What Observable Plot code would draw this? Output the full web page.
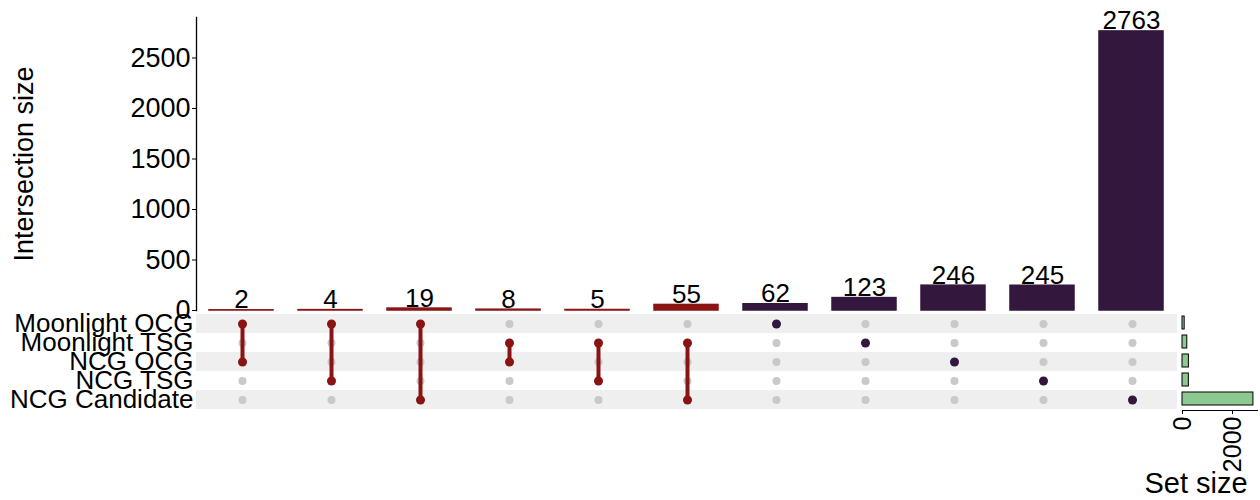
<!DOCTYPE html>
<html>
<head>
<meta charset="utf-8">
<script src="https://cdn.jsdelivr.net/npm/d3@7"></script>
<script src="https://cdn.jsdelivr.net/npm/@observablehq/plot@0.6"></script>
<style>
  html, body { margin: 0; padding: 0; background: #fff; }
  #chart { position: relative; width: 1260px; height: 500px; }
  #chart svg { position: absolute; left: 0; top: 0; }
</style>
</head>
<body>
<div id="chart"></div>
<script>
// ---- data ----
const sets = ["Moonlight OCG", "Moonlight TSG", "NCG OCG", "NCG TSG", "NCG Candidate"];
const setSizes = [87, 191, 256, 254, 2837];
const intersectionSizes = [2, 4, 19, 8, 5, 55, 62, 123, 246, 245, 2763];
const intersectionMembers = [
  ["Moonlight OCG", "NCG OCG"],
  ["Moonlight OCG", "NCG TSG"],
  ["Moonlight OCG", "NCG Candidate"],
  ["Moonlight TSG", "NCG OCG"],
  ["Moonlight TSG", "NCG TSG"],
  ["Moonlight TSG", "NCG Candidate"],
  ["Moonlight OCG"],
  ["Moonlight TSG"],
  ["NCG OCG"],
  ["NCG TSG"],
  ["NCG Candidate"]
];
const yTicks = [0, 500, 1000, 1500, 2000, 2500];
const setSizeTicks = [0, 2000];

// ---- derived tables ----
const RED = "#8a1313", PURPLE = "#33173d", DOT_GRAY = "#c9c9c9", STRIPE = "#efefef", GREEN = "#8dc891";
const ids = intersectionSizes.map((_, i) => "c" + i);
const combos = ids.map((id, i) => ({
  id, size: intersectionSizes[i], members: intersectionMembers[i],
  color: intersectionMembers[i].length > 1 ? RED : PURPLE
}));
const grid = combos.flatMap(c => sets.map(s => ({id: c.id, set: s})));
const memberDots = combos.flatMap(c => c.members.map(s => ({id: c.id, set: s, color: c.color})));
const links = combos.filter(c => c.members.length > 1).map(c => ({
  id: c.id, from: c.members[0], to: c.members[c.members.length - 1], color: c.color
}));
const setTable = sets.map((s, i) => ({set: s, size: setSizes[i]}));
const stripeSets = sets.filter((_, i) => i % 2 === 0);

const FONT = "'Liberation Sans', Arial, Helvetica, sans-serif";
const baseStyle = {fontFamily: FONT, background: "transparent", color: "#000", overflow: "visible"};
const xBand = {domain: ids, paddingInner: 0.28, paddingOuter: 0.14, axis: null};

// ---- matrix ----
const matrix = Plot.plot({
  width: 1260, height: 500,
  marginLeft: 196, marginRight: 83, marginTop: 312, marginBottom: 90,
  style: baseStyle,
  x: xBand,
  y: {domain: sets, padding: 0, axis: null},
  marks: [
    Plot.cell(stripeSets, {y: d => d, fill: STRIPE}),
    Plot.axisY({tickSize: 0, tickPadding: 3, fontSize: 26, label: null}),
    Plot.dot(grid, {x: "id", y: "set", r: 4, fill: DOT_GRAY}),
    Plot.link(links, {x1: "id", x2: "id", y1: "from", y2: "to", stroke: d => d.color, strokeWidth: 4}),
    Plot.dot(memberDots, {x: "id", y: "set", r: 4.5, fill: d => d.color})
  ]
});

// ---- intersection bars ----
const bars = Plot.plot({
  width: 1260, height: 500,
  marginLeft: 196, marginRight: 83, marginTop: 17, marginBottom: 190,
  style: baseStyle,
  x: xBand,
  y: {domain: [0, 2901], axis: null},
  marks: [
    Plot.barY(combos, {x: "id", y: "size", fill: d => d.color, stroke: d => d.color, strokeWidth: 1.5}),
    Plot.text(combos, {x: "id", y: "size", text: d => String(d.size), lineAnchor: "bottom", dy: -2, fontSize: 26, fill: "#000"}),
    Plot.frame({anchor: "left", stroke: "#000", strokeWidth: 1.3}),
    Plot.axisY({
      ticks: yTicks, tickSize: 4, tickPadding: 2, fontSize: 27, tickFormat: d => String(d),
      label: "Intersection size", labelAnchor: "center", labelOffset: 183, labelArrow: "none"
    })
  ]
});

// ---- set size bars ----
const setBars = Plot.plot({
  width: 1260, height: 500,
  marginLeft: 1182, marginRight: 3, marginTop: 312, marginBottom: 90,
  style: baseStyle,
  x: {domain: [0, 3000], axis: null},
  y: {domain: sets, paddingInner: 0.3, paddingOuter: 0.15, axis: null},
  marks: [
    Plot.barX(setTable, {y: "set", x: "size", fill: GREEN, stroke: "#000", strokeWidth: 1}),
    Plot.frame({anchor: "bottom", stroke: "#000", strokeWidth: 1}),
    Plot.axisX({ticks: setSizeTicks, tickSize: 4, tickPadding: 2, tickRotate: -90, fontSize: 25, label: null, tickFormat: d => String(d)}),
    Plot.text(["Set size"], {frameAnchor: "bottom", dx: -24, dy: 82, lineAnchor: "bottom", fontSize: 29, fill: "#000"})
  ]
});

const chart = document.getElementById("chart");
chart.append(matrix, bars, setBars);
</script>
</body>
</html>
